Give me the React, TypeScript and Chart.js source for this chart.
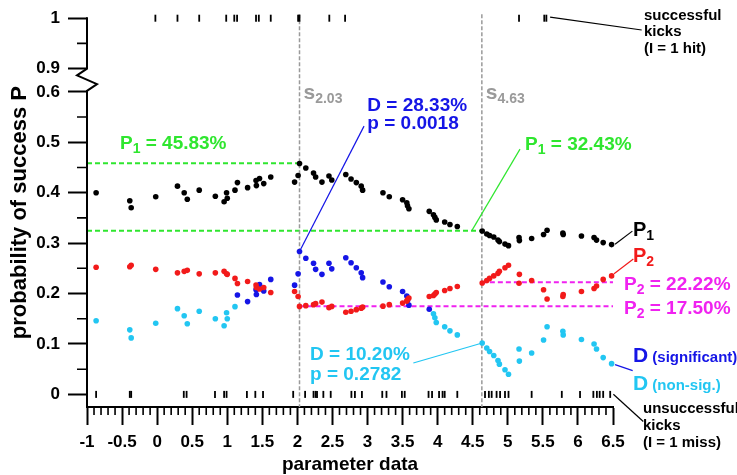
import React, { useEffect, useRef } from 'react';
import { Chart, registerables } from 'chart.js';

Chart.register(...registerables);

const FONT = '"Liberation Sans", Arial, Helvetica, sans-serif';
const GREEN = '#2fe62f';
const MAGENTA = '#f022f0';
const BLUE = '#1515e6';
const CYAN = '#22c6f2';
const RED = '#f21a1a';
const GRAY = '#9a9a9a';

// split positions where the probabilities were evaluated
const paramX = [
    -0.87, -0.39, -0.37, -0.02, 0.29, 0.386, 0.43, 0.6, 0.83, 0.955, 0.99, 1.0,
    1.11, 1.145, 1.29, 1.41, 1.415, 1.46, 1.52, 1.62, 1.96, 2.01, 2.03, 2.12,
    2.23, 2.26, 2.35, 2.45, 2.49, 2.69, 2.765, 2.84, 2.91, 2.93, 3.22, 3.31,
    3.5, 3.56, 3.57, 3.59, 3.88, 3.94, 3.96, 3.98, 4.1, 4.175, 4.28, 4.635,
    4.7, 4.74, 4.8, 4.86, 4.88, 4.96, 5.01, 5.16, 5.165, 5.34, 5.51, 5.56,
    5.785, 5.79, 6.05, 6.23, 6.265, 6.36, 6.48
];

const p1Values = [
    0.4, 0.384, 0.37, 0.392, 0.413, 0.4, 0.387, 0.405, 0.393, 0.382, 0.4, 0.389,
    0.405, 0.42, 0.41, 0.424, 0.414, 0.428, 0.418, 0.431, 0.421, 0.434, 0.458, 0.449,
    0.439, 0.431, 0.421, 0.433, 0.425, 0.436, 0.427, 0.42, 0.413, 0.405, 0.4, 0.392,
    0.386, 0.38, 0.374, 0.368, 0.363, 0.356, 0.351, 0.346, 0.342, 0.337, 0.333, 0.324,
    0.318, 0.315, 0.312, 0.306, 0.303, 0.298, 0.295, 0.311, 0.305, 0.309, 0.317, 0.3255,
    0.32, 0.317, 0.314, 0.311, 0.306, 0.301, 0.297
];

const p2Values = [
    0.252, 0.253, 0.256, 0.248, 0.241, 0.244, 0.246, 0.239, 0.241, 0.244, 0.239, 0.238,
    0.23, 0.22, 0.224, 0.217, 0.212, 0.209, 0.212, 0.202, 0.204, 0.194, 0.1745, 0.176,
    0.178, 0.18, 0.183, 0.172, 0.1745, 0.163, 0.165, 0.168, 0.171, 0.173, 0.175, 0.178,
    0.181, 0.185, 0.188, 0.191, 0.194, 0.196, 0.199, 0.202, 0.206, 0.21, 0.214, 0.221,
    0.226, 0.23, 0.235, 0.24, 0.244, 0.251, 0.256, 0.2205, 0.238, 0.226, 0.2076, 0.1893,
    0.194, 0.198, 0.204, 0.21, 0.215, 0.228, 0.235
];

const dValues = [
    0.146, 0.128, 0.112, 0.141, 0.17, 0.156, 0.14, 0.165, 0.15, 0.136, 0.162, 0.15,
    0.174, 0.197, 0.184, 0.2075, 0.198, 0.218, 0.205, 0.228, 0.2166, 0.239, 0.2833, 0.27,
    0.26, 0.248, 0.238, 0.26, 0.249, 0.271, 0.261, 0.251, 0.241, 0.2315, 0.223, 0.2134,
    0.204, 0.195, 0.186, 0.177, 0.1687, 0.16, 0.152, 0.1426, 0.134, 0.126, 0.118, 0.102,
    0.092, 0.085, 0.077, 0.067, 0.06, 0.049, 0.04, 0.09, 0.066, 0.082, 0.108, 0.134,
    0.125, 0.118, 0.109, 0.1, 0.09, 0.073, 0.061
];

// 1 = difference significant (blue), 0 = not significant (cyan)
const dSignificant = [
    0, 0, 0, 0, 0, 0, 0, 0, 0, 0, 0, 0,
    0, 1, 1, 1, 1, 1, 1, 1, 1, 1, 1, 1,
    1, 1, 1, 1, 1, 1, 1, 1, 1, 1, 1, 1,
    1, 1, 1, 1, 1, 0, 0, 0, 0, 0, 0, 0,
    0, 0, 0, 0, 0, 0, 0, 0, 0, 0, 0, 0,
    0, 0, 0, 0, 0, 0, 0
];

const hitKicks = [-0.025, 0.29, 0.6, 0.985, 1.1, 1.14, 1.41, 1.45, 1.62, 2.01, 2.03, 2.455, 2.68, 5.16, 5.52, 5.55];
const missKicks = [
    -0.87, -0.39, -0.37, 0.38, 0.42, 0.825, 0.955, 0.99, 1.28, 1.4, 1.51, 1.94, 2.11, 2.23, 2.26, 2.28,
    2.37, 2.475, 2.77, 2.82, 2.92, 3.21, 3.27, 3.49, 3.53, 3.87, 3.92, 4.02, 4.07, 4.1, 4.28, 4.675,
    4.73, 4.77, 4.84, 4.89, 4.96, 5.01, 5.34, 5.77, 6.03, 6.22, 6.27, 6.31, 6.36, 6.46
];

const splitValues = [2.03, 4.63];
const splitLabels = ['2.03', '4.63'];

const xTickValues = [-1, -0.5, 0, 0.5, 1, 1.5, 2, 2.5, 3, 3.5, 4, 4.5, 5, 5.5, 6, 6.5];
const xTickLabels = ['-1', '-0.5', '0', '0.5', '1', '1.5', '2', '2.5', '3', '3.5', '4', '4.5', '5', '5.5', '6', '6.5'];
const yTickValues = [0, 0.1, 0.2, 0.3, 0.4, 0.5, 0.6, 0.9, 1];
const yTickLabels = ['0', '0.1', '0.2', '0.3', '0.4', '0.5', '0.6', '0.9', '1'];
const yMinorValues = [0.05, 0.15, 0.25, 0.35, 0.45, 0.55, 0.95];

// y axis is cut between 0.6 and 0.9
const BREAK_LOW = 0.6;
const BREAK_HIGH = 0.9;
const BREAK_GAP = 0.046;
const brokenY = (v: number) => (v >= BREAK_HIGH ? v - (BREAK_HIGH - BREAK_LOW) + BREAK_GAP : v);
const Y_MIN = -0.025;
const Y_MAX = brokenY(1);

const levelLines = [
    { from: -1, to: 2.03, value: 0.4583, color: GREEN },
    { from: -1, to: 4.63, value: 0.3243, color: GREEN },
    { from: 2.03, to: 6.5, value: 0.175, color: MAGENTA },
    { from: 4.63, to: 6.5, value: 0.2222, color: MAGENTA }
];

type Run = { t: string; size: number; dy?: number };
const txt = (t: string, size = 19): Run => ({ t, size });
const sub = (t: string, size = 14): Run => ({ t, size, dy: 4 });

// text positions in scale units (y is baseline)
const notes = [
    { x: -0.53, y: 0.486, color: GREEN, runs: [txt('P'), sub('1'), txt(' = 45.83%')] },
    { x: 5.246, y: 0.4845, color: GREEN, runs: [txt('P'), sub('1'), txt(' = 32.43%')] },
    { x: 2.997, y: 0.5625, color: BLUE, runs: [txt('D = 28.33%')] },
    { x: 2.997, y: 0.5255, color: BLUE, runs: [txt('p = 0.0018')] },
    { x: 2.18, y: 0.068, color: CYAN, runs: [txt('D = 10.20%')] },
    { x: 2.18, y: 0.0277, color: CYAN, runs: [txt('p = 0.2782')] },
    { x: 6.657, y: 0.2067, color: MAGENTA, runs: [txt('P'), sub('2'), txt(' = 22.22%')] },
    { x: 6.657, y: 0.159, color: MAGENTA, runs: [txt('P'), sub('2'), txt(' = 17.50%')] },
    { x: 6.785, y: 0.314, color: '#000', runs: [txt('P', 20), sub('1')] },
    { x: 6.785, y: 0.2633, color: RED, runs: [txt('P', 20), sub('2')] },
    { x: 6.785, y: 0.0649, color: BLUE, runs: [txt('D', 21), txt(' (significant)', 15)] },
    { x: 6.785, y: 0.0082, color: CYAN, runs: [txt('D', 21), txt(' (non-sig.)', 15)] },
    { x: 6.942, y: 0.743, color: '#000', runs: [txt('successful', 15)] },
    { x: 6.942, y: 0.7105, color: '#000', runs: [txt('kicks', 15)] },
    { x: 6.942, y: 0.6767, color: '#000', runs: [txt('(I = 1 hit)', 15)] },
    { x: 6.928, y: -0.0373, color: '#000', runs: [txt('unsuccessful', 15)] },
    { x: 6.928, y: -0.0713, color: '#000', runs: [txt('kicks', 15)] },
    { x: 6.928, y: -0.104, color: '#000', runs: [txt('(I = 1 miss)', 15)] }
];

const leaders = [
    { x1: 2.03, y1: 0.2833, x2: 2.95, y2: 0.532, color: BLUE },
    { x1: 4.635, y1: 0.102, x2: 3.653, y2: 0.0623, color: CYAN },
    { x1: 4.485, y1: 0.3243, x2: 5.174, y2: 0.4864, color: GREEN },
    { x1: 6.529, y1: 0.2977, x2: 6.776, y2: 0.3238, color: '#000' },
    { x1: 6.515, y1: 0.2391, x2: 6.79, y2: 0.2684, color: RED },
    { x1: 6.529, y1: 0.059, x2: 6.781, y2: 0.0472, color: BLUE },
    { x1: 5.603, y1: 0.748, x2: 6.909, y2: 0.7226, color: '#000' },
    { x1: 6.505, y1: 0.0004, x2: 6.932, y2: -0.0537, color: '#000' }
];

const drawRuns = (ctx: CanvasRenderingContext2D, runs: Run[], x: number, y: number, color: string) => {
    ctx.fillStyle = color;
    ctx.textBaseline = 'alphabetic';
    ctx.textAlign = 'left';
    let cx = x;
    for (const r of runs) {
        ctx.font = `bold ${r.size}px ${FONT}`;
        ctx.fillText(r.t, cx, y + (r.dy || 0));
        cx += ctx.measureText(r.t).width;
    }
};

const decorations = {
    id: 'decorations',
    beforeDatasetsDraw(chart: any) {
        const { ctx, chartArea, scales } = chart;
        const xs = scales.x;
        const ys = scales.y;
        ctx.save();
        ctx.lineWidth = 2;
        ctx.setLineDash([5, 3]);
        for (const l of levelLines) {
            const py = ys.getPixelForValue(l.value);
            ctx.strokeStyle = l.color;
            ctx.beginPath();
            ctx.moveTo(xs.getPixelForValue(l.from), py);
            ctx.lineTo(xs.getPixelForValue(l.to), py);
            ctx.stroke();
        }
        ctx.strokeStyle = GRAY;
        ctx.lineWidth = 1.5;
        ctx.setLineDash([4, 2]);
        for (const s of splitValues) {
            const px = xs.getPixelForValue(s);
            ctx.beginPath();
            ctx.moveTo(px, chartArea.top - 4);
            ctx.lineTo(px, chartArea.bottom);
            ctx.stroke();
        }
        ctx.restore();
    },
    afterDraw(chart: any) {
        const { ctx, chartArea, scales } = chart;
        const xs = scales.x;
        const ys = scales.y;
        const left = chartArea.left;
        ctx.save();

        // y axis line with the break
        const zTop = ys.getPixelForValue(brokenY(BREAK_HIGH));
        const zBot = ys.getPixelForValue(BREAK_LOW);
        const h = zBot - zTop;
        ctx.strokeStyle = '#000';
        ctx.lineWidth = 2;
        ctx.beginPath();
        ctx.moveTo(left, ys.getPixelForValue(Y_MAX) - 1);
        ctx.lineTo(left, zTop);
        ctx.lineTo(left - 10, zTop + h * 0.29);
        ctx.lineTo(left + 10, zTop + h * 0.67);
        ctx.lineTo(left, zBot - 1);
        ctx.lineTo(left, chartArea.bottom + 1);
        ctx.stroke();

        // minor ticks
        ctx.lineWidth = 1.6;
        ctx.beginPath();
        for (let i = -10; i <= 65; i++) {
            if (i % 5 === 0) continue;
            const px = xs.getPixelForValue(i / 10);
            ctx.moveTo(px, chartArea.bottom);
            ctx.lineTo(px, chartArea.bottom + 8);
        }
        for (const v of yMinorValues) {
            const py = ys.getPixelForValue(brokenY(v));
            ctx.moveTo(left, py);
            ctx.lineTo(left - 10, py);
        }
        ctx.stroke();

        // leader lines
        ctx.lineWidth = 1.2;
        for (const l of leaders) {
            ctx.strokeStyle = l.color;
            ctx.beginPath();
            ctx.moveTo(xs.getPixelForValue(l.x1), ys.getPixelForValue(l.y1));
            ctx.lineTo(xs.getPixelForValue(l.x2), ys.getPixelForValue(l.y2));
            ctx.stroke();
        }

        // split labels
        splitValues.forEach((s, i) => {
            drawRuns(ctx, [txt('s', 21), sub(splitLabels[i])], xs.getPixelForValue(s) + 4, ys.getPixelForValue(0.586), GRAY);
        });

        for (const n of notes) {
            drawRuns(ctx, n.runs, xs.getPixelForValue(n.x), ys.getPixelForValue(n.y), n.color);
        }
        ctx.restore();
    }
};

const App = () => {
    const chartRef = useRef<HTMLCanvasElement>(null);

    useEffect(() => {
        if (!chartRef.current) return;

        const pts = (vals: number[]) => paramX.map((x, i) => ({ x, y: vals[i] }));
        const dPts = (flag: number) =>
            paramX.map((x, i) => ({ x, y: dValues[i] })).filter((_, i) => dSignificant[i] === flag);
        const dot = (color: string) => ({
            backgroundColor: color,
            borderWidth: 0,
            pointRadius: 2.8,
            clip: false as const
        });
        const rug = {
            pointStyle: 'line' as const,
            rotation: 90,
            pointRadius: 3.5,
            borderColor: '#000',
            borderWidth: 1.8,
            clip: false as const
        };

        const chart = new Chart(chartRef.current, {
            type: 'scatter',
            data: {
                datasets: [
                    { label: 'hits', data: hitKicks.map((x) => ({ x, y: brokenY(1) })), ...rug },
                    { label: 'misses', data: missKicks.map((x) => ({ x, y: 0 })), ...rug },
                    { label: 'P1', data: pts(p1Values), ...dot('#000') },
                    { label: 'P2', data: pts(p2Values), ...dot(RED) },
                    { label: 'D significant', data: dPts(1), ...dot(BLUE) },
                    { label: 'D non-sig.', data: dPts(0), ...dot(CYAN) }
                ]
            },
            options: {
                responsive: true,
                maintainAspectRatio: false,
                animation: false,
                events: [],
                layout: { padding: { left: 0, right: 124, top: 12, bottom: 0 } },
                plugins: {
                    legend: { display: false },
                    tooltip: { enabled: false }
                },
                scales: {
                    x: {
                        type: 'linear',
                        min: -1,
                        max: 6.5,
                        afterBuildTicks: (axis: any) => {
                            axis.ticks = xTickValues.map((value) => ({ value }));
                        },
                        afterFit: (axis: any) => {
                            axis.height = 68;
                        },
                        ticks: {
                            callback: (_v: any, i: number) => xTickLabels[i],
                            color: '#000',
                            padding: 7,
                            maxRotation: 0,
                            font: { family: FONT, size: 17, weight: 'bold' }
                        },
                        grid: {
                            drawOnChartArea: false,
                            drawTicks: true,
                            tickLength: 18,
                            tickWidth: 2,
                            tickColor: '#000'
                        },
                        border: { display: true, color: '#000', width: 2 },
                        title: {
                            display: true,
                            text: 'parameter data',
                            color: '#000',
                            padding: { top: 0, bottom: 0.5 },
                            font: { family: FONT, size: 19, weight: 'bold', lineHeight: 1 }
                        }
                    },
                    y: {
                        type: 'linear',
                        min: Y_MIN,
                        max: Y_MAX,
                        afterBuildTicks: (axis: any) => {
                            axis.ticks = yTickValues.map((v) => ({ value: brokenY(v) }));
                        },
                        afterFit: (axis: any) => {
                            axis.width = 87;
                        },
                        ticks: {
                            callback: (_v: any, i: number) => yTickLabels[i],
                            color: '#000',
                            padding: 8,
                            font: { family: FONT, size: 17, weight: 'bold' }
                        },
                        grid: {
                            drawOnChartArea: false,
                            drawTicks: true,
                            tickLength: 19,
                            tickWidth: 2,
                            tickColor: '#000'
                        },
                        border: { display: false },
                        title: {
                            display: true,
                            text: 'probability of success P',
                            color: '#000',
                            padding: { top: 9, bottom: 0 },
                            font: { family: FONT, size: 22, weight: 'bold', lineHeight: 1 }
                        }
                    }
                }
            },
            plugins: [decorations]
        });

        return () => {
            chart.destroy();
        };
    }, []);

    return (
        <div style={{ position: 'absolute', left: 0, top: 0, width: 737, height: 475, background: '#fff' }}>
            <canvas ref={chartRef}></canvas>
        </div>
    );
};

export default App;
